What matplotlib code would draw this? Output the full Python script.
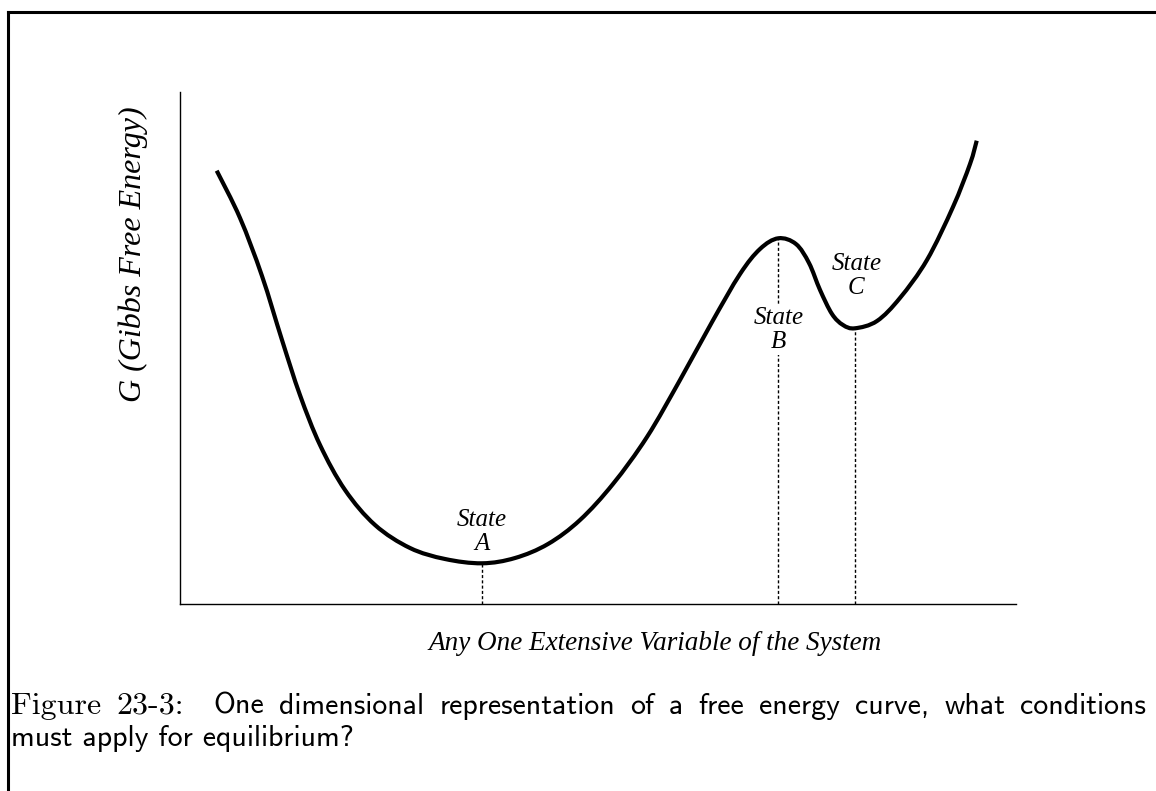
import matplotlib
matplotlib.use("Agg")
import matplotlib.pyplot as plt
from matplotlib.path import Path
from matplotlib.patches import PathPatch
from matplotlib.lines import Line2D

# ---- data (arbitrary units 0..100) ----
curve_x = [4.39, 7.18, 9.81, 12.20, 14.35, 16.75, 19.74, 23.33, 27.51, 31.70,
           36.12, 40.07, 44.02, 47.85, 51.79, 55.86, 59.81, 63.64, 66.99, 69.38,
           71.57, 73.68, 75.24, 76.56, 77.99, 79.31, 80.74, 83.37, 86.12, 89.35,
           92.46, 94.50, 95.30]
curve_y = [84.63, 75.39, 64.06, 51.56, 40.82, 31.05, 22.27, 15.43, 10.94, 8.79,
           7.95, 8.98, 11.72, 16.41, 23.44, 32.62, 43.75, 55.08, 64.45, 69.34,
           71.43, 70.31, 66.60, 61.33, 56.64, 54.49, 53.85, 55.27, 59.77, 67.19,
           77.54, 85.94, 90.49]

state_names = ["A", "B", "C"]
state_x = [36.12, 71.57, 80.74]
state_g = [7.95, 71.43, 53.85]
label_x = [36.12, 71.57, 80.90]
label_y = [14.06, 53.5, 64.1]

x_label = "Any One Extensive Variable of the System"
y_label = "G (Gibbs Free Energy)"
caption_head = ["Figure", "23-3:"]
caption_line1 = "One dimensional representation of a free energy curve, what conditions"
caption_line2 = "must apply for equilibrium?"

W, H = 1156, 791
fig = plt.figure(figsize=(W / 100, H / 100), dpi=100)
fig.patch.set_facecolor("white")

def fx(px):
    return px / W

def fy(py):
    return 1 - py / H

ax = fig.add_axes([fx(180), fy(604), fx(1016) - fx(180), fy(92) - fy(604)])
ax.set_xlim(0, 100)
ax.set_ylim(0, 100)
for s in ["top", "right"]:
    ax.spines[s].set_visible(False)
for s in ["left", "bottom"]:
    ax.spines[s].set_linewidth(1.0)
ax.set_xticks([])
ax.set_yticks([])

# smooth curve through the read points (Catmull-Rom -> cubic Bezier)
pts = list(zip(curve_x, curve_y))
verts = [pts[0]]
codes = [Path.MOVETO]
n = len(pts)
for i in range(n - 1):
    p0 = pts[i - 1] if i > 0 else pts[i]
    p1 = pts[i]
    p2 = pts[i + 1]
    p3 = pts[i + 2] if i + 2 < n else pts[i + 1]
    c1 = (p1[0] + (p2[0] - p0[0]) / 6, p1[1] + (p2[1] - p0[1]) / 6)
    c2 = (p2[0] - (p3[0] - p1[0]) / 6, p2[1] - (p3[1] - p1[1]) / 6)
    verts += [c1, c2, p2]
    codes += [Path.CURVE4] * 3
ax.add_patch(PathPatch(Path(verts, codes), facecolor="none", edgecolor="black",
                       linewidth=3.0, capstyle="butt", joinstyle="round", zorder=3))

serif_it = dict(family=["Liberation Serif"], style="italic")

for name, xs, g, lx, ly in zip(state_names, state_x, state_g, label_x, label_y):
    ax.plot([xs, xs], [0, g], color="black", linewidth=1.0,
            linestyle=(0, (2.2, 1.6)), zorder=1)
    bbox = None
    if name == "B":
        bbox = dict(facecolor="white", edgecolor="none", pad=1.5)
    ax.text(lx, ly, "State\n" + name, ha="center", va="center", fontsize=18,
            linespacing=1.1, bbox=bbox, zorder=2, **serif_it)

fig.text(fx(655), fy(643), x_label, ha="center", va="center", fontsize=19.5, **serif_it)
fig.text(fx(133), fy(254), y_label, ha="center", va="center", rotation=90,
         fontsize=23, **serif_it)

# frame lines (top and left)
fig.add_artist(Line2D([fx(8), 1.0], [fy(12), fy(12)], color="black", linewidth=2.2))
fig.add_artist(Line2D([fx(8), fx(8)], [fy(12), 0.0], color="black", linewidth=2.2))

# caption: first line justified between x=11 and x=1146 px
cap_size = 21.5
head_size = 23
words = [(w, "cmr10", head_size) for w in caption_head] + \
        [(w, "cmss10", cap_size) for w in caption_line1.split(" ")]
renderer = fig.canvas.get_renderer()
texts = []
for w, fam, sz in words:
    t = fig.text(0, fy(714), w, ha="left", va="baseline", fontsize=sz, family=fam)
    texts.append(t)
widths = [t.get_window_extent(renderer).width for t in texts]
left_px, right_px = 11.0, 1146.0
weights = [1.0] * (len(words) - 1)
weights[1] = 2.0  # extra space after the colon
free = (right_px - left_px) - sum(widths)
unit = free / sum(weights)
xpos = left_px
for i, t in enumerate(texts):
    t.set_x(fx(xpos))
    xpos += widths[i]
    if i < len(weights):
        xpos += unit * weights[i]

fig.text(fx(11), fy(746), caption_line2, ha="left", va="baseline",
         fontsize=cap_size, family="cmss10")

fig.savefig("out.png", dpi=100, facecolor="white")
